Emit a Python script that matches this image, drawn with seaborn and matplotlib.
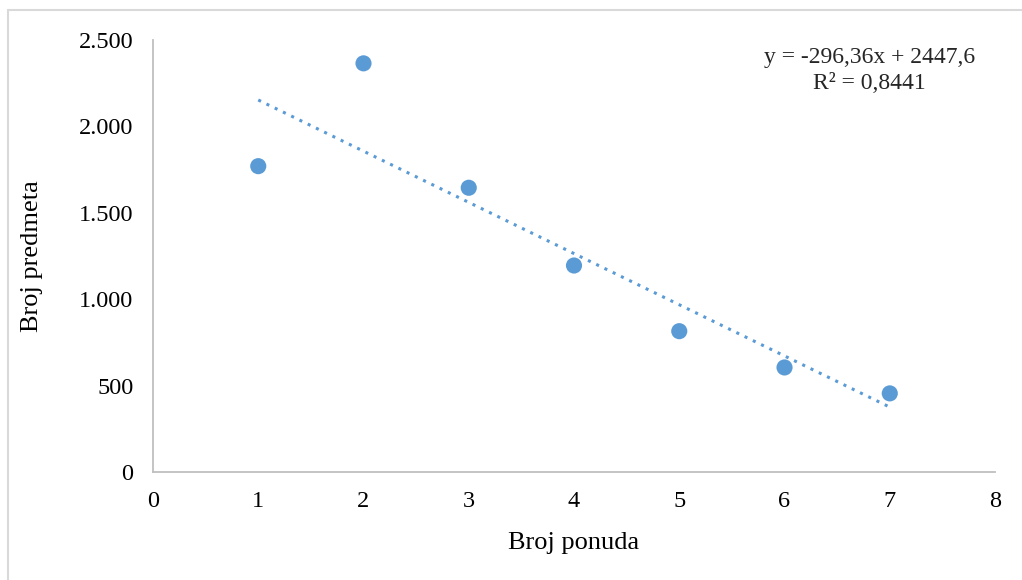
import numpy as np
import pandas as pd
import matplotlib
matplotlib.use("Agg")
import matplotlib.pyplot as plt
import seaborn as sns
from matplotlib.ticker import FuncFormatter

# podaci
broj_ponuda = [1, 2, 3, 4, 5, 6, 7]
broj_predmeta = [1770, 2365, 1645, 1195, 815, 605, 455]
x_ticks = [0, 1, 2, 3, 4, 5, 6, 7, 8]
y_ticks = [0, 500, 1000, 1500, 2000, 2500]

df = pd.DataFrame({"Broj ponuda": broj_ponuda, "Broj predmeta": broj_predmeta})

sns.set_theme(style="white")
plt.rcParams['font.family'] = ['Liberation Serif', 'DejaVu Serif']

fig = plt.figure(figsize=(10.22, 5.80), dpi=100)
ax = fig.add_axes([0.1497, 0.1862, 0.8239, 0.7448])

blue = "#5B9BD5"
sns.scatterplot(data=df, x="Broj ponuda", y="Broj predmeta", ax=ax,
                color=blue, s=135, edgecolor="none", zorder=3)

# linearni trend
slope, intercept = np.polyfit(broj_ponuda, broj_predmeta, 1)
xs = np.array([min(broj_ponuda), max(broj_ponuda)])
ax.plot(xs, slope * xs + intercept, linestyle=(0, (1, 2)), color=blue,
        linewidth=2.2, zorder=2)

ax.text(0.851, 0.96, "y = -296,36x + 2447,6", transform=ax.transAxes,
        ha="center", va="center", fontsize=17)
ax.text(0.851, 0.90, "R² = 0,8441", transform=ax.transAxes,
        ha="center", va="center", fontsize=17)

ax.set_xlim(0, 8)
ax.set_ylim(0, 2500)
ax.set_xticks(x_ticks)
ax.set_yticks(y_ticks)
ax.yaxis.set_major_formatter(FuncFormatter(lambda v, p: f"{int(v):,}".replace(",", ".")))
ax.tick_params(axis="both", length=0, labelsize=17.5, colors="black")
ax.tick_params(axis="x", pad=14)
ax.tick_params(axis="y", pad=14)

for side in ["top", "right"]:
    ax.spines[side].set_visible(False)
for side in ["left", "bottom"]:
    ax.spines[side].set_color("#BFBFBF")
    ax.spines[side].set_linewidth(1.3)

ax.set_xlabel("Broj ponuda", fontsize=19, color="black", labelpad=14)
ax.set_ylabel("Broj predmeta", fontsize=19, color="black", labelpad=26)

# okvir grafikona
fig.add_artist(plt.Line2D([0.008, 0.008], [0.0, 0.983], color="#D9D9D9", lw=1.5,
                          transform=fig.transFigure))
fig.add_artist(plt.Line2D([0.008, 1.0], [0.983, 0.983], color="#D9D9D9", lw=1.5,
                          transform=fig.transFigure))

fig.savefig("out.png", dpi=100)
